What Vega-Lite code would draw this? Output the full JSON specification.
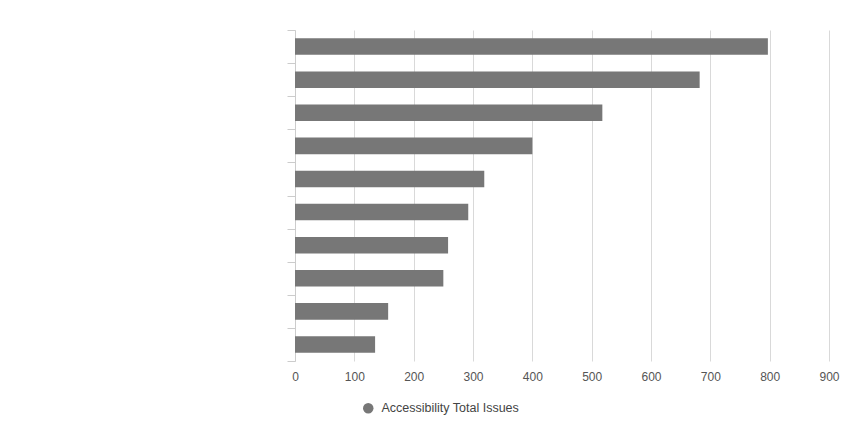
{
  "$schema": "https://vega.github.io/schema/vega-lite/v6.json",
  "autosize": {"type": "none"},
  "padding": {"left": 295, "top": 30, "right": 19, "bottom": 71},
  "width": 534,
  "height": 331,
  "background": "white",
  "data": {"values": [
    {"item": "Item 1", "issues": 797},
    {"item": "Item 2", "issues": 682},
    {"item": "Item 3", "issues": 518},
    {"item": "Item 4", "issues": 400},
    {"item": "Item 5", "issues": 319},
    {"item": "Item 6", "issues": 292},
    {"item": "Item 7", "issues": 258},
    {"item": "Item 8", "issues": 250},
    {"item": "Item 9", "issues": 157},
    {"item": "Item 10", "issues": 135}
  ]},
  "mark": {"type": "bar", "height": {"band": 0.5}},
  "encoding": {
    "y": {
      "field": "item", "type": "nominal", "sort": null,
      "scale": {"paddingInner": 0, "paddingOuter": 0},
      "axis": {"title": null, "labels": false, "tickBand": "extent", "tickSize": 8, "tickColor": "#cccccc", "domainColor": "#cccccc", "grid": false}
    },
    "x": {
      "field": "issues", "type": "quantitative",
      "scale": {"domain": [0, 900], "nice": false},
      "axis": {"title": null, "values": [0,100,200,300,400,500,600,700,800,900], "ticks": false, "domain": false, "grid": true, "gridColor": "#d9d9d9", "labelFont": "Liberation Sans", "labelFontSize": 12, "labelColor": "#555555", "labelPadding": 10, "labelFlush": false}
    },
    "color": {
      "datum": "Accessibility Total Issues",
      "scale": {"range": ["#777777"]},
      "legend": {"title": null, "orient": "none", "legendX": 67, "legendY": 372, "symbolType": "circle", "symbolSize": 110, "symbolStrokeWidth": 0, "labelFont": "Liberation Sans", "labelFontSize": 12.5, "labelColor": "#444444", "labelOffset": 7}
    }
  },
  "config": {"view": {"stroke": null}}
}
